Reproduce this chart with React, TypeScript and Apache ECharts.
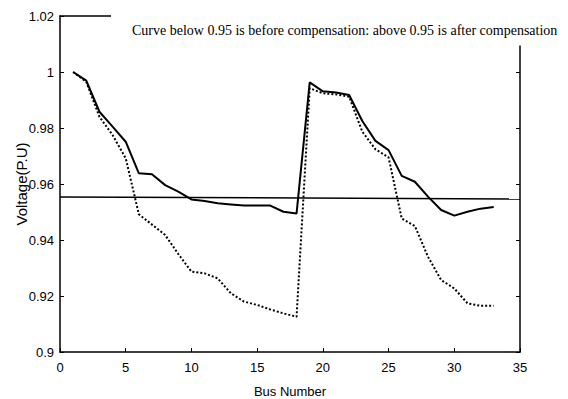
import React, { useEffect, useRef } from "react";
import * as echarts from "echarts";

const buses = [1, 2, 3, 4, 5, 6, 7, 8, 9, 10, 11, 12, 13, 14, 15, 16, 17, 18, 19, 20, 21, 22, 23, 24, 25, 26, 27, 28, 29, 30, 31, 32, 33];
const afterComp = [1.0, 0.9969, 0.9858, 0.9805, 0.9751, 0.9638, 0.9635, 0.9596, 0.9573, 0.9545, 0.9539, 0.9531, 0.9527, 0.9523, 0.9523, 0.9523, 0.9501, 0.9495, 0.9963, 0.9931, 0.9927, 0.9918, 0.9825, 0.9754, 0.9721, 0.9629, 0.9608, 0.9555, 0.9507, 0.9487, 0.9501, 0.9512, 0.9518];
const beforeComp = [1.0, 0.9965, 0.984, 0.9775, 0.9692, 0.9492, 0.9455, 0.9418, 0.935, 0.9287, 0.9281, 0.9263, 0.921, 0.918, 0.9168, 0.9152, 0.9138, 0.9126, 0.9942, 0.9924, 0.992, 0.9912, 0.9787, 0.9724, 0.9695, 0.9477, 0.945, 0.934, 0.9257, 0.9227, 0.9174, 0.9165, 0.9165];
const refX = [0, 35];
const refY = [0.9554, 0.9546];
const noteText = "Curve below 0.95 is before compensation: above 0.95 is after compensation";

const tickFont = "'Liberation Sans Narrow', 'Liberation Sans', Arial, sans-serif";

export default function App() {
  const ref = useRef<HTMLDivElement>(null);
  useEffect(() => {
    if (!ref.current) return;
    const chart = echarts.init(ref.current, null, { renderer: "svg" });
    const axisLine = { show: true, onZero: false, lineStyle: { color: "#000", width: 1.5 } };
    chart.setOption({
      animation: false,
      backgroundColor: "#fff",
      grid: { left: 60, right: 48, top: 16, bottom: 47, containLabel: false, outerBoundsMode: "none" },
      xAxis: [
        {
          type: "value", min: 0, max: 35, interval: 5, position: "bottom",
          axisLine, axisTick: { show: true, inside: true, length: 4, lineStyle: { color: "#000" } },
          axisLabel: { color: "#000", fontSize: 13, fontFamily: tickFont, margin: 9 },
          splitLine: { show: false },
          name: "Bus Number", nameLocation: "middle", nameGap: 33, nameMoveOverlap: false,
          nameTextStyle: { color: "#000", fontSize: 13, fontFamily: tickFont },
        },
        {
          type: "value", min: 0, max: 35, interval: 5, position: "top",
          axisLine, axisTick: { show: false }, axisLabel: { show: false }, splitLine: { show: false },
        },
      ],
      yAxis: [
        {
          type: "value", min: 0.9, max: 1.02, interval: 0.02, position: "left",
          axisLine, axisTick: { show: true, inside: true, length: 4, lineStyle: { color: "#000" } },
          axisLabel: { color: "#000", fontSize: 13, fontFamily: tickFont, margin: 6 },
          splitLine: { show: false },
          name: "Voltage(P.U)", nameLocation: "middle", nameGap: 31, nameMoveOverlap: false,
          nameTextStyle: { color: "#000", fontSize: 15, fontFamily: tickFont },
        },
        {
          type: "value", min: 0.9, max: 1.02, interval: 0.02, position: "right",
          axisLine, axisTick: { show: true, inside: true, length: 4, lineStyle: { color: "#000" } },
          axisLabel: { show: false }, splitLine: { show: false },
        },
      ],
      series: [
        {
          type: "line", name: "after", data: buses.map((b, i) => [b, afterComp[i]]),
          showSymbol: false, symbol: "none", lineStyle: { color: "#000", width: 2 }, z: 3,
        },
        {
          type: "line", name: "before", data: buses.map((b, i) => [b, beforeComp[i]]),
          showSymbol: false, symbol: "none", lineStyle: { color: "#000", width: 2, type: "dotted" }, z: 3,
        },
        {
          type: "line", name: "ref", data: refX.map((x, i) => [x, refY[i]]),
          showSymbol: false, symbol: "none", lineStyle: { color: "#000", width: 1.5 }, z: 2,
        },
      ],
      graphic: [
        {
          type: "rect", z: 100, shape: { x: 111, y: 0, width: 457, height: 45.5 },
          style: { fill: "#fff" },
        },
        {
          type: "text", z: 101, x: 132, y: 30,
          style: {
            text: noteText, fill: "#000", fontSize: 14,
            fontFamily: "'Liberation Serif', 'Times New Roman', serif",
            verticalAlign: "middle", align: "left",
          },
        },
      ],
    });
    return () => chart.dispose();
  }, []);
  return (
    <div
      ref={ref}
      style={{ position: "fixed", left: 0, top: 0, width: 568, height: 399, background: "#fff" }}
    />
  );
}
